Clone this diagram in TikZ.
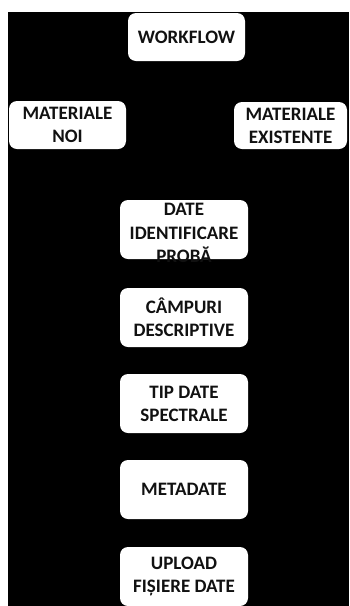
\documentclass[tikz,border=0pt]{standalone}
\usepackage{fontspec}
\setmainfont{Carlito}
\definecolor{boxtext}{HTML}{111111}
\begin{document}
\begin{tikzpicture}[x=1pt,y=-1pt,
  wbox/.style={fill=white,draw=none,rounded corners=8pt,inner sep=0pt,
    text=boxtext,align=center,font=\bfseries\fontsize{19}{23}\selectfont},
  colbox/.style={wbox,minimum width=128pt,minimum height=59pt},
  plaintext/.style={inner sep=0pt,text=boxtext,align=center,font=\bfseries\fontsize{19}{23.5}\selectfont}]
\useasboundingbox (0,0) rectangle (349,606);
\fill[white] (0,0) rectangle (349,606);
\fill[black] (8,12) rectangle (349,606);
\node[wbox,minimum width=117pt,minimum height=48pt] (wf) at (186.5,37) {WORKFLOW};
\node[wbox,minimum width=117pt,minimum height=48pt] (mn) at (67.5,125) {MATERIALE\\NOI};
\node[wbox,minimum width=113pt,minimum height=47pt] (me) at (290.5,125.5) {MATERIALE\\EXISTENTE};
\node[colbox] (dip) at (184,229.5) {};
\node[plaintext] (diptext) at (184,233) {DATE\\IDENTIFICARE\\PROBĂ};
\node[colbox] (cd) at (184,317.5) {CÂMPURI\\DESCRIPTIVE};
\node[colbox] (tds) at (184,403.5) {TIP DATE\\SPECTRALE};
\node[colbox] (md) at (184,489.5) {METADATE};
\node[colbox] (ufd) at (184,576.5) {UPLOAD\\FIȘIERE DATE};
\end{tikzpicture}
\end{document}
